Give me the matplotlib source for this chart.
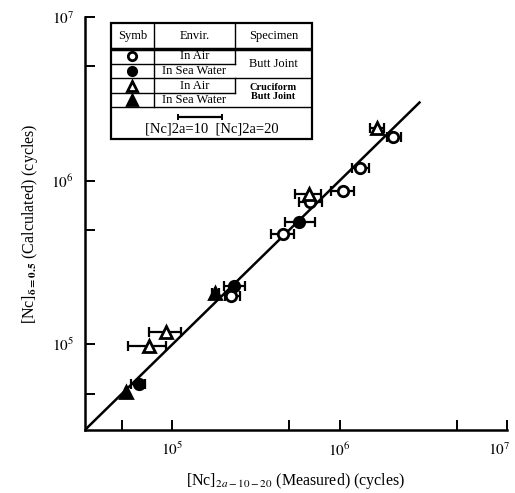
"""
Calculated vs measured fatigue life, butt and cruciform joints
"""
import numpy as np
import matplotlib
matplotlib.use("Agg")
import matplotlib.pyplot as plt
import matplotlib.transforms as mtransforms

plt.rcParams['font.family'] = ['Liberation Serif', 'DejaVu Serif']
plt.rcParams['mathtext.fontset'] = 'stix'

# measured (x), calculated (y), error bar ends ([Nc]2a=10, [Nc]2a=20)
butt_air_x = [2.24e5, 4.58e5, 6.62e5, 1.04e6, 1.32e6, 2.09e6]
butt_air_y = [1.97e5, 4.73e5, 7.43e5, 8.69e5, 1.20e6, 1.84e6]
butt_air_lo = [2.07e5, 3.88e5, 5.70e5, 8.84e5, 1.18e6, 1.91e6]
butt_air_hi = [2.54e5, 5.32e5, 7.82e5, 1.21e6, 1.49e6, 2.34e6]

butt_sea_x = [6.28e4, 2.34e5, 5.70e5]
butt_sea_y = [5.69e4, 2.27e5, 5.60e5]
butt_sea_lo = [5.62e4, 2.04e5, 4.71e5]
butt_sea_hi = [6.81e4, 2.72e5, 7.10e5]

cruc_air_x = [7.2e4, 9.1e4, 6.53e5, 1.66e6]
cruc_air_y = [9.7e4, 1.19e5, 8.32e5, 2.11e6]
cruc_air_lo = [5.4e4, 7.2e4, 5.40e5, 1.51e6]
cruc_air_hi = [9.1e4, 1.12e5, 7.70e5, 1.85e6]

cruc_sea_x = [5.25e4, 1.80e5]
cruc_sea_y = [5.08e4, 2.05e5]
cruc_sea_lo = [5.25e4, 1.73e5]
cruc_sea_hi = [5.25e4, 1.90e5]

line_ends = [3e4, 3e6]

fig = plt.figure(figsize=(5.15, 4.93), dpi=100)
ax = fig.add_axes([0.165, 0.128, 0.8194, 0.8377])
ax.set_xscale('log')
ax.set_yscale('log')
ax.set_xlim(3e4, 1e7)
ax.set_ylim(3e4, 1e7)

ax.plot(line_ends, line_ends, color='black', lw=1.8, zorder=2)


def draw(xs, ys, lo, hi, marker, filled, size):
    xs = np.array(xs)
    err = np.array([xs - np.array(lo), np.array(hi) - xs])
    ax.errorbar(xs, ys, xerr=err, fmt='none', ecolor='black',
                elinewidth=1.6, capsize=3.5, capthick=1.6, zorder=3)
    ax.plot(xs, ys, linestyle='none', marker=marker, markersize=size,
            markerfacecolor='black' if filled else 'white',
            markeredgecolor='black', markeredgewidth=2, zorder=4)


draw(butt_air_x, butt_air_y, butt_air_lo, butt_air_hi, 'o', False, 7.5)
draw(butt_sea_x, butt_sea_y, butt_sea_lo, butt_sea_hi, 'o', True, 7.5)
draw(cruc_air_x, cruc_air_y, cruc_air_lo, cruc_air_hi, '^', False, 8.5)
draw(cruc_sea_x, cruc_sea_y, cruc_sea_lo, cruc_sea_hi, '^', True, 8.5)

# axes styling
ax.spines['top'].set_visible(False)
ax.spines['right'].set_visible(False)
ax.spines['left'].set_linewidth(1.8)
ax.spines['bottom'].set_linewidth(1.8)
ticks = [5e4, 1e5, 5e5, 1e6, 5e6, 1e7]
ax.set_xticks(ticks)
ax.set_yticks(ticks)
labels = ['', r'$10^5$', '', r'$10^6$', '', r'$10^7$']
ax.set_xticklabels(labels)
ax.set_yticklabels(labels)
ax.minorticks_off()
ax.tick_params(direction='in', length=7, width=1.4, labelsize=11, pad=8)
# keep the last x label inside the figure
last = ax.get_xticklabels()[-1]
last.set_transform(last.get_transform() +
                   mtransforms.ScaledTranslation(-8 / 100, 0, fig.dpi_scale_trans))

ax.set_xlabel(r'[Nc]$_{2a-10-20}$ (Measured) (cycles)',
              fontsize=11.5, labelpad=9)
ax.set_ylabel(r'[Nc]$_{\mathbf{\delta=0.5}}$ (Calculated) (cycles)',
              fontsize=11.5, labelpad=8)

# legend table (pixel coordinates of the figure)
W, H = 515, 493
L, R, T, B = 111, 312, 23, 139
lg = fig.add_axes([L / W, 1 - B / H, (R - L) / W, (B - T) / H])
lg.set_xlim(L, R)
lg.set_ylim(B, T)
lg.axis('off')
lg.add_patch(plt.Rectangle((L, T), R - L, B - T, fill=False, lw=1.6,
                           edgecolor='black', clip_on=False))
c1, c2 = 154, 235
lk = dict(color='black', lw=1.0)
lg.plot([L, R], [49, 49], color='black', lw=2.5)
lg.plot([c1, c1], [T, 107], **lk)
lg.plot([c2, c2], [T, 49], **lk)
lg.plot([c2, c2], [49, 64], **lk)
lg.plot([L, c2], [64, 64], **lk)
lg.plot([L, R], [78, 78], **lk)
lg.plot([c2, c2], [78, 93], **lk)
lg.plot([L, c2], [93, 93], **lk)
lg.plot([L, R], [107, 107], **lk)

fs = 9
lg.text((L + c1) / 2, 36, 'Symb', ha='center', va='center', fontsize=fs)
lg.text((c1 + c2) / 2, 36, 'Envir.', ha='center', va='center', fontsize=fs)
lg.text((c2 + R) / 2, 36, 'Specimen', ha='center', va='center', fontsize=fs)
rows = [(56, 'o', False, 'In Air'), (71, 'o', True, 'In Sea Water'),
        (86, '^', False, 'In Air'), (100, '^', True, 'In Sea Water')]
for y, m, f, t in rows:
    lg.plot([132], [y], marker=m, markersize=6 if m == 'o' else 7.5,
            markerfacecolor='black' if f else 'white',
            markeredgecolor='black', markeredgewidth=2)
    lg.text((c1 + c2) / 2, y, t, ha='center', va='center', fontsize=fs)
lg.text((c2 + R) / 2, 64, 'Butt Joint', ha='center', va='center', fontsize=fs)
lg.text((c2 + R) / 2, 92, 'Cruciform\nButt Joint', ha='center', va='center',
        fontsize=7.5, fontweight='bold', linespacing=1.0)
lg.errorbar([200], [117], xerr=[[22], [22]], fmt='none', ecolor='black',
            elinewidth=1.6, capsize=2.5, capthick=1.4)
lg.text((L + R) / 2, 129, '[Nc]2a=10  [Nc]2a=20', ha='center', va='center',
        fontsize=10.5)

fig.savefig('out.png', dpi=100)
